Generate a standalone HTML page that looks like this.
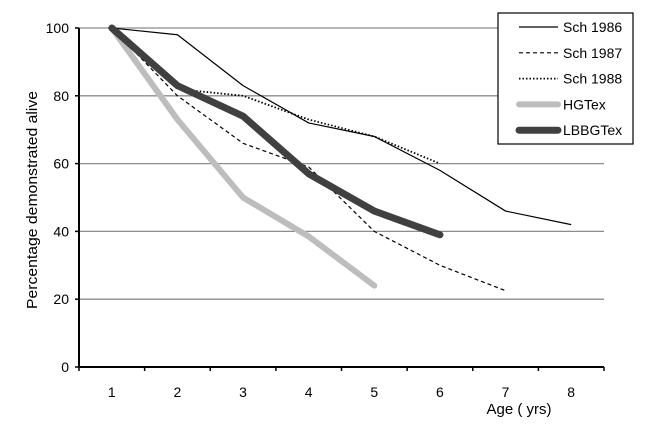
<!DOCTYPE html>
<html><head><meta charset="utf-8"><style>
body{margin:0;background:#fff;}
svg{display:block;font-family:"Liberation Sans",sans-serif;}
</style></head><body>
<svg width="659" height="436" viewBox="0 0 659 436" id="chart">
<g id="grid"></g>
<g id="series"></g>
<g id="axes"></g>
<text transform="translate(37,200) rotate(-90)" text-anchor="middle" font-size="15" textLength="218" lengthAdjust="spacingAndGlyphs" fill="#000">Percentage demonstrated alive</text>
<text x="519" y="414" text-anchor="middle" font-size="15" fill="#000">Age ( yrs)</text>
<g>
<rect x="498" y="13" width="135" height="131" fill="#fff" stroke="#000" stroke-width="1.2"/>
<g id="legend"></g>
</g>
</svg>
<script>
const categories=[1,2,3,4,5,6,7,8];
const yTicks=[0,20,40,60,80,100];
const sch1986=[100,98,83,72,68,58,46,42];
const sch1987=[100,80,66,59,40,30,22.5];
const sch1988=[100,82,80,73,68,60];
const hgtex=[100,73,50,38.5,24];
const lbbgtex=[100,83,74,57,46,39];
const seriesNames=["Sch 1986","Sch 1987","Sch 1988","HGTex","LBBGTex"];

const NS="http://www.w3.org/2000/svg";
const x0=79,x1=604,y0=367,y100=28;
const bw=(x1-x0)/categories.length;
const xs=i=>x0+bw*(i+0.5);
const ys=v=>y0-(v/100)*(y0-y100);
function mk(tag,attrs,parent){const e=document.createElementNS(NS,tag);for(const k in attrs)e.setAttribute(k,attrs[k]);parent.appendChild(e);return e;}
const grid=document.getElementById('grid'),axes=document.getElementById('axes'),ser=document.getElementById('series'),leg=document.getElementById('legend');
yTicks.forEach(t=>{
 if(t>0){const l=mk('line',{x1:x0,x2:x1,y1:ys(t),y2:ys(t),stroke:'#8c8c8c','stroke-width':1.3},grid);
 
 }
 const tk=mk('line',{x1:x0-4,x2:x0,y1:ys(t),y2:ys(t),stroke:'#000','stroke-width':1.5},axes);
 
 
 const tx=mk('text',{x:x0-10,y:ys(t)+5,'text-anchor':'end','font-size':14},axes);
 tx.textContent=t;
 
 
});
const ya=mk('line',{x1:x0,x2:x0,y1:y100,y2:y0,stroke:'#000','stroke-width':2},axes);


const xa=mk('line',{x1:x0,x2:x1,y1:y0,y2:y0,stroke:'#000','stroke-width':2},axes);


for(let i=0;i<=categories.length;i++){
 const tk=mk('line',{x1:x0+bw*i,x2:x0+bw*i,y1:y0,y2:y0+4,stroke:'#000','stroke-width':1.5},axes);
 
 
}
categories.forEach((c,i)=>{
 const tx=mk('text',{x:xs(i),y:y0+30,'text-anchor':'middle','font-size':14},axes);
 tx.textContent=c;
 
 
});
const styles=[
 {stroke:'#000',w:1.2,dash:null,cap:'butt'},
 {stroke:'#000',w:1.2,dash:'4,3',cap:'butt'},
 {stroke:'#000',w:1.8,dash:'1.5,2',cap:'butt'},
 {stroke:'#bdbdbd',w:6,dash:null,cap:'round'},
 {stroke:'#404040',w:7,dash:null,cap:'round'}];
const data=[sch1986,sch1987,sch1988,hgtex,lbbgtex];
const order=[0,1,2,3,4];
order.forEach(k=>{
 const s=styles[k];
 const pts=data[k].map((v,i)=>xs(i)+','+ys(v)).join(' ');
 const a={points:pts,fill:'none',stroke:s.stroke,'stroke-width':s.w,'stroke-linejoin':'round','stroke-linecap':s.cap};
 if(s.dash)a['stroke-dasharray']=s.dash;
 const p=mk('polyline',a,ser);
 
 
 const ly=27+k*25.8;
 const la={x1:519,x2:558,y1:ly,y2:ly,stroke:s.stroke,'stroke-width':s.w,'stroke-linecap':s.cap};
 if(s.dash)la['stroke-dasharray']=s.dash;
 const ll=mk('line',la,leg);
 
 
 const lt=mk('text',{x:563,y:ly+5,'font-size':14},leg);
 lt.textContent=seriesNames[k];
 
 
});
</script>
</body></html>
